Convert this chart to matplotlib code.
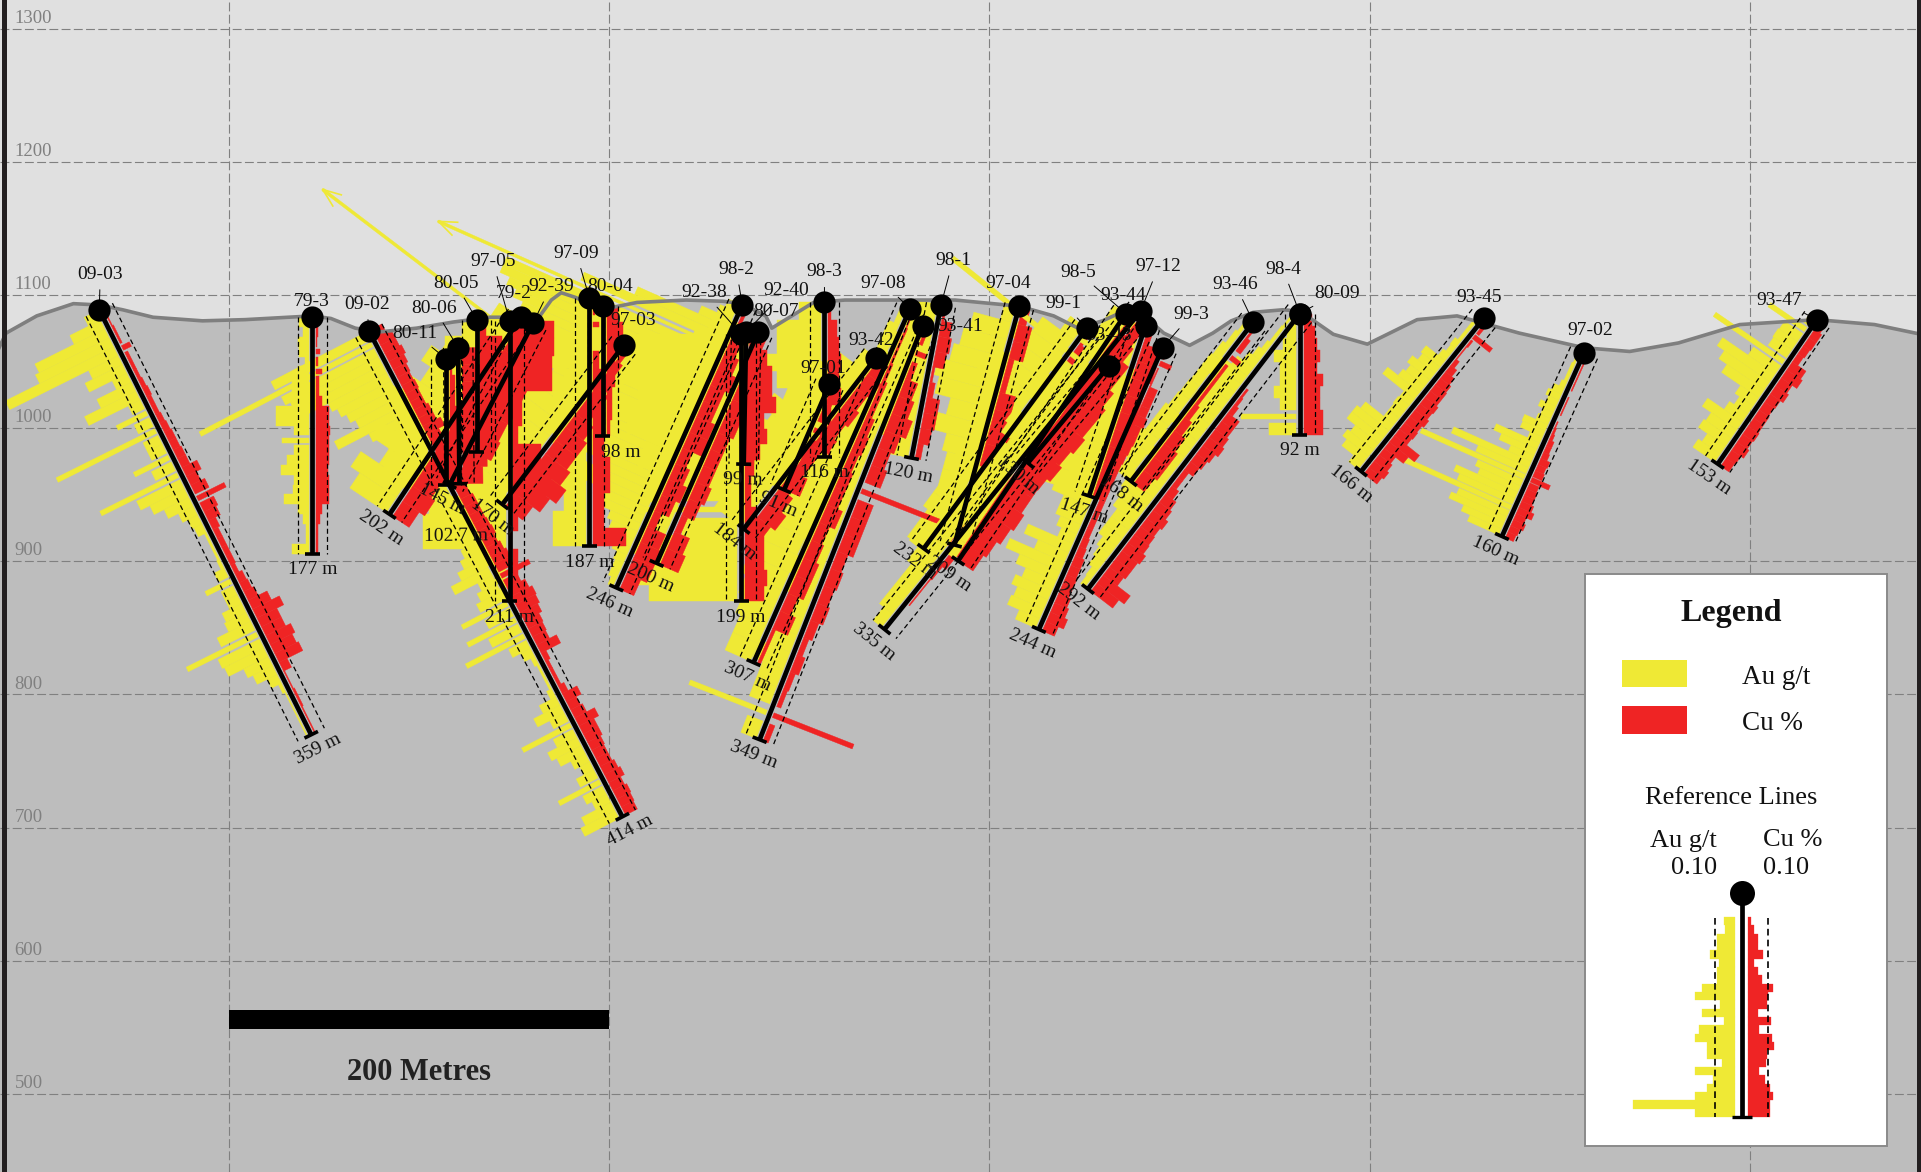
import math

import matplotlib
matplotlib.use("Agg")
from matplotlib import pyplot as plt
from matplotlib.collections import PolyCollection
from matplotlib.patches import Rectangle

# drill holes, section metres / elevation
hole_names = ["09-03", "79-3", "09-02", "80-11", "80-06", "80-05", "97-05", "79-2", "92-39", "97-09", "80-04", "97-03",
              "98-2", "92-38", "92-40", "80-07", "98-3", "97-01", "93-42", "97-08", "93-41", "98-1", "97-04", "99-1",
              "98-5", "93-43", "97-12", "93-44", "99-3", "93-46", "98-4", "80-09", "93-45", "97-02", "93-47"]
collar_x = [131.7, 243.8, 273.5, 314.1, 320.5, 330.2, 347.6, 353.4, 359.8, 389.5, 396.6, 407.5,
            470.0, 469.4, 472.0, 478.4, 513.2, 515.8, 540.3, 558.3, 564.8, 574.5, 615.7, 651.2,
            671.8, 662.8, 679.5, 682.1, 691.1, 738.8, 763.3, 763.3, 860.0, 912.8, 1035.3]
collar_y = [1088.8, 1083.2, 1073.1, 1052.0, 1060.3, 1081.4, 1080.5, 1083.2, 1078.6, 1097.9, 1091.5, 1062.1,
            1092.4, 1070.4, 1072.2, 1072.2, 1094.3, 1032.7, 1052.9, 1089.7, 1076.8, 1092.4, 1091.5, 1075.0,
            1086.0, 1046.5, 1087.8, 1076.8, 1060.3, 1079.6, 1086.0, 1086.0, 1082.3, 1056.6, 1081.4]
end_x = [243.2, 243.8, 406.9, 314.1, 321.2, 330.2, 347.6, 284.4, 316.0, 389.5, 396.6, 343.7,
         403.7, 469.4, 470.7, 424.9, 513.2, 492.0, 470.7, 475.9, 479.1, 559.0, 581.6, 565.4,
         583.5, 620.2, 544.8, 652.4, 626.0, 674.4, 651.8, 763.3, 795.5, 869.6, 983.1]
end_y = [769.7, 905.8, 708.1, 957.3, 958.2, 982.1, 869.9, 935.2, 957.3, 911.3, 994.0, 942.6,
         880.0, 869.9, 972.9, 898.4, 978.4, 953.6, 924.2, 823.9, 766.0, 977.5, 912.2, 909.5,
         900.3, 973.8, 848.8, 949.0, 848.8, 960.0, 879.1, 995.0, 967.4, 918.6, 972.9]
depth_labels = ["359 m", "177 m", "414 m", "", "102.7 m", "", "211 m", "202 m", "145 m", "187 m", "98 m", "170 m",
                "246 m", "199 m", "99 m", "200 m", "116 m", "91 m", "184 m", "307 m", "349 m", "120 m", "", "232 m",
                "209 m", "130 m", "335 m", "147 m", "244 m", "168 m", "292 m", "92 m", "166 m", "160 m", "153 m"]

# assay profiles collar -> end
au_values = {
    "09-03": [.12, .31, .71, .75, 1.1, .3, .38, .15, .35, .52, .12, .3, .15, 1.0, .15, .15, .35, .2, .78, .44, .35, .25, .15, .1,
              .08, .02, .02, .02, .03, .1, .25, .12, .12, .2, .22, .34, .71, .42, .4, .25, .2, .1, .03, .01, .01, .01, .01, .01],
    "79-3": [.09, .05, .1, .09, .03, .1, .15, .15, .15, .3, .3, .13, .24, .13, .2, .25, .13, .14, .22, .1, .05, .02, .02, .15],
    "09-02": [.97, 1.76, .95, .9, .85, .6, .55, .5, .45, .71, .4, .3, .3, .3, .53, .4, .62, .3, .2, .2, .18, .15, .15, .21, .15,
              .12, .15, .2, .27, .38, .15, .2, .25, .46, .25, .49, .3, .59, .18, .1, .04, .02, .02, .02, .05, .17, .27, .15, .49,
              .2, .3, .25, .15, .1, .18, .42, .2, .15, .3, .35],
    "80-11": [.05, .1, .1, .05, .1, .05, .1, .05],
    "80-06": [.1, .2, .15, .1, .2, .1, .15, .1],
    "80-05": [.1, .25, .3, .2, .2, .1, .1, .2],
    "97-05": [.1, .1, .1, .2, .2, .15, .1, .1, .1, .35, .7, .75, .75, .3, .1, .05],
    "79-2": [.2, .3, .3, .4, .5, .4, .5, .6, .4, .5, .3, .5, .4],
    "92-39": [.1, .2, .3, .2, .3, .2, .3, .2, .2],
    "97-09": [.1, .05, .1, .1, .2, .3, .3, .3, .3, .2, .3, .2, .3, .3],
    "80-04": [.05, .1, .1, .1, .1, .1, .1, .1],
    "97-03": [.1, .3, .8, 3.0, 1.0, .9, .8, .7, .7, .6, .5, .4],
    "98-2": [.1, .15, .3, .9, 1.4, 2.8, 2.1, 2.1, 2.0, 1.9, 1.8, 1.8, 1.7, 1.5, 1.5, 1.3, 1.3, 1.3, 1.2, 1.2, 1.0, .9, .8, .6,
             .8, .9, .5, .4, .3, .25, .2, .15, .1, .08, .08, .05],
    "92-38": [1.7, 1.8, 1.2, .9, 1.5, 1.0, .6, .9, .8, .5, .9, .5, .8, .9, .9, .8],
    "92-40": [.3, .3, .4, .3, .3, .3, .3, .3],
    "80-07": [.4, .5, .6, .7, .6, .5, .4, .5, .5, .3, .3, .2, .2, .2],
    "98-3": [.2, .4, .4, .5, .4, .3, .3, .2, .2],
    "97-01": [.3, .3, .3, .4, .3, .3],
    "93-42": [.1, .3, .5, .4, .35, .5, .4, .4, .4, .5, .35, .3],
    "97-08": [.05, .1, .1, .2, .3, .35, .3, .35, .4, .45, .4, .4, .35, .4, .35, .4, .35, .3, .25, .25],
    "93-41": [.1, .15, .2, .3, .3, .25, .3, .35, .3, .3, .3, .25, .3, .25, .3, .25, .2, .2, .2, .3, .2, .2, .75, .15],
    "98-1": [.2, .25, .35, .3, .35, .3, .3, .3, .2],
    "97-04": [.1, .35, .4, .45, .55, .5, .35, .5, .3, .25, .25, .2, .2, .15],
    "99-1": [.15, .35, .5, .4, .5, .55, .4, .35, .25, .25, .25, .2, .2, .2, .15, .15],
    "98-5": [.1, .1, .2, .1, .2, .3, .2, .2, .3, .2, .2, .2, .15, .1, .1, .1],
    "93-43": [.1, .2, .2, .2, .2, .2, .2],
    "97-12": [.05, .1, .1, .15, 1.6, .3, .2, .3, .2, .3, .15, .2, .2, .3, .2, .2, .2, .2, .3, .2, .15, .15, .15, .1],
    "93-44": [.1, .3, .3, .4, .5, .5, .5, .6, .6, .5],
    "99-3": [.03, .05, .1, .15, .2, .25, .25, .2, .2, .25, .2, .2, .25, .43, .3, .25, .37, .25, .25, .2, .15, .44, .3, .54, .4, .3, .36, .3, .32, .2],
    "93-46": [.03, .05, .08, .1, .1, .11, .12, .15, .15, .2, .2, .12],
    "98-4": [.02, .02, .03, .03, .05, .08, .12, .18, .3, .3, .25, .25, .28, .25, .25, .3, .25, .3, .25, .3, .25, .25, .3, .3, .28, .25,
             .2, .2, .2, .15, .12, .1, .06, .05],
    "80-09": [.05, .08, .12, .2, .15, .15, .2, .15, .5, .25],
    "93-45": [.02, .03, .03, .03, .06, .05, .08, .22, .2, .26, .22, .25, .37, .12, .13, .12, .12, .33, .37, .37, .27, .3, .25, .11],
    "97-02": [.02, .02, .03, .03, .03, .05, .1, .13, .1, .15, .1, .12, .23, .22, .12, .43, .35, .23, .77, .5, 1.03, .45, .4, .61, .55,
              1.12, .5, .55, .4, .31],
    "93-47": [.05, .4, .2, .21, .2, .76, .3, .58, .5, .41, .2, .15, .2, .38, .28, .3, .2, .24],
}
cu_values = {
    "09-03": [.01, .01, .02, .02, .08, .03, .03, .03, .04, .05, .04, .04, .05, .06, .07, .07, .08, .08, .15, .1, .14, .28, .14, .12,
              .07, .05, .05, .05, .05, .04, .07, .08, .1, .19, .27, .2, .2, .25, .22, .24, .08, .01, .01, .02, .02, .01, .01, .01],
    "79-3": [.02, .02, .01, .04, .02, .05, .03, .03, .05, .12, .12, .13, .12, .12, .12, .11, .12, .12, .12, .05, .04, .02, .02, .02],
    "09-02": [.1, .15, .15, .17, .15, .13, .12, .13, .12, .12, .14, .14, .18, .12, .1, .12, .1, .08, .08, .1, .1, .12, .12, .12, .13,
              .14, .12, .14, .16, .15, .29, .14, .18, .21, .2, .18, .15, .14, .13, .2, .05, .03, .03, .03, .06, .15, .1, .12, .2,
              .15, .15, .13, .12, .12, .14, .16, .12, .14, .13, .12],
    "80-11": [.02, .05, .05, .1, .12, .05, .08, .05],
    "80-06": [.15, .18, .12, .12, .22, .25, .22, .18],
    "80-05": [.05, .2, .3, .3, .25, .25, .15, .08],
    "97-05": [.37, .37, .35, .35, .08, .08, .04, .25, .37, .33, .04, .04, 0, .04, .04, 0],
    "79-2": [.07, .1, .14, .14, .2, .2, .18, .2, .2, .24, .2, .24, .18],
    "92-39": [.14, .2, .2, .2, .2, .18, .2, .14, .1],
    "97-09": [.02, .05, 0, .05, .08, .05, .1, .1, .1, .15, .15, .1, .1, .3],
    "80-04": [.1, .15, .12, .08, .08, .05, .05, .03],
    "97-03": [.04, .07, .1, .14, .14, .2, .24, .24, .28, .35, .28, .2],
    "98-2": [.03, .07, .1, .14, .18, .14, .14, .18, .2, .1, .14, .18, .14, .07, .18, .2, .2, .14],
    "92-38": [.03, .2, .25, .25, .28, .17, .2, .14, .08, .06, .06, .11, .17, .17, .17, .2, .17],
    "92-40": [.06, .11, .11, .11, .11, .08, .06, .06],
    "80-07": [.06, .12, .15, .18, .18, .15, .12, .12, .12, .15, .12, .06, .15, .18],
    "98-3": [.03, .08, .1, .12, .1, .12, .03, .02, .02],
    "97-01": [.06, .06, .1, .06, .06, .12],
    "93-42": [.1, .15, .12, .15, .12, .15, .1, .1, .1, .15, .2, .15],
    "97-08": [.01, .02, .02, .03, .05, .05, .08, .1, .08, .1, .1, .15, .1, .12, .15, .15, .1, .15, .03, .03],
    "93-41": [.03, .1, .05, .12, .15, .2, .15, .12, .15, .78, .15, .15, .15, .1, .12, .1, .12, .08, .05, .08, .05, .04, .78, .05],
    "98-1": [.02, .1, .12, .1, .02, .05, .12, .12, .1, .05],
    "97-04": [.07, .13, .13, .05, .05, .15, .2, .22, .2, .22, .25, .25, .2, .15],
    "99-1": [.03, .06, .06, .12, .06, .1, .12, .2, .16, .2, .2, .2, .2, .16, .13, .06],
    "98-5": [.06, .1, .13, .13, .2, .2, .2, .23, .2, .2, .2, .2, .23, .2, .16, .13],
    "93-43": [.1, .16, .2, .2, .23, .2, .23],
    "97-12": [.06, .1, .13, .2, .2, .2, .23, .2, .2, .2, .23, .26, .2, .2, .2, .16, .2, .13, .06, .02, .01, .01, 0, 0],
    "93-44": [.05, .15, .18, .15, .15, .15, .18, .15, .1, .1],
    "99-3": [.02, .11, .01, .01, .08, .08, .08, .1, .08, .08, .07, .06, .05, .05, .05, .05, .05, .05, .05, .05, .06, .07, .09, .09, .1, .1, .12, .14, .17, .12],
    "93-46": [.02, .05, .1, .03, .03, .03, .05, .08, .12, .15, .15, .12],
    "98-4": [0, 0, 0, 0, 0, 0, 0, 0, 0, .02, .03, .05, .13, .13, .15, .17, .14, .12, .1, .05, .05, .08, .12, .14, .17, .15, .16, .17, .2, .18,
             .18, .16, .31, .25],
    "80-09": [.08, .1, .12, .15, .12, .18, .15, .15, .18, .18],
    "93-45": [.03, .03, .2, .02, .01, .01, .04, .07, .1, .12, .13, .13, .15, .14, .16, .14, .15, .14, .29, .22, .13, .15, .17, .15],
    "97-02": [.01, .01, .01, .01, .01, .01, 0, .01, .01, .01, 0, .01, .02, .03, .05, .05, .06, .09, .08, .09, .18, .09, .1, .1, .12, .15,
              .1, .12, .09, .08],
    "93-47": [.06, .08, .08, .07, .06, .15, .17, .12, .14, .11, .1, .11, .11, .12, .11, .13, .1, .09],
}

# ground surface
surface_x = [79, 82.7, 98.8, 118.1, 131.7, 144, 160, 186, 208.4, 243.8, 253.5, 266.4, 279.3, 298.6, 317.9, 337.3,
             363, 369.5, 374.7, 382.4, 395.3, 414.6, 440.4, 459.7, 470, 482.3, 485.5, 507.5, 524, 582, 615.7, 633.8,
             646.6, 659.5, 672.4, 682.1, 691.7, 705.3, 717.5, 727.2, 738.8, 754.3, 763.3, 780.9, 798.8, 825, 846,
             878.7, 912.8, 936.8, 962.5, 994.8, 1035.3, 1065.6, 1090.1]
surface_y = [1060.3, 1071.3, 1084.2, 1093.4, 1092.4, 1088.8, 1083.2, 1080.5, 1081.4, 1084.2, 1082.3, 1075, 1072.2,
             1075, 1079.6, 1083.2, 1083.2, 1096.1, 1101.6, 1098, 1088.8, 1094.3, 1096.1, 1095.2, 1093.4, 1084.2,
             1075, 1094.3, 1096.1, 1096.1, 1091.5, 1084.2, 1075, 1080.5, 1088.8, 1083.2, 1071.3, 1062.1, 1071.3,
             1080.5, 1086.9, 1088.8, 1087.8, 1070.4, 1063, 1081.4, 1084.2, 1071.3, 1060.3, 1057.5, 1063.9, 1077.7,
             1081.4, 1077.7, 1070.4]

elevations = [1300, 1200, 1100, 1000, 900, 800, 700, 600, 500]
grid_x = [200, 400, 600, 800, 1000]

# legend sample hole
sample_au = [.055, .05, .09, .09, .125, .08, .09, .09, .165, .2, .075, .165, .055, .18, .2, .14, .14, .065, .2, .11, .14, .2, .51, .2]
sample_cu = [.015, .03, .05, .05, .075, .03, .05, .07, .125, .1, .095, .05, .115, .055, .12, .13, .095, .09, .055, .085, .11, .125, .11, .11]

# name label offsets from the collar, px
name_offset = {
    "09-03": (1, -38), "79-3": (-1, -18), "09-02": (-2, -29), "80-11": (-31, -28), "80-06": (-24, -42), "80-05": (-21, -39),
    "97-05": (-17, -62), "79-2": (-7, -26), "92-39": (18, -39), "97-09": (-13, -47), "80-04": (7, -22), "97-03": (10, -27),
    "98-2": (-6, -38), "92-38": (-37, -44), "92-40": (40, -44), "80-07": (18, -23), "98-3": (0, -33), "97-01": (-6, -18),
    "93-42": (-5, -20), "97-08": (-27, -28), "93-41": (38, -2), "98-1": (12, -47), "97-04": (-11, -25), "99-1": (-23, -27),
    "98-5": (-48, -44), "93-43": (0, -33), "97-12": (18, -47), "93-44": (-22, -33), "99-3": (29, -36), "93-46": (-18, -40),
    "98-4": (-17, -47), "80-09": (37, -23), "93-45": (-5, -23), "97-02": (6, -25), "93-47": (-38, -22),
}
depth_nudge = {"98 m": (18, 0), "102.7 m": (-4, 36)}
# gold of these holes sits over the copper of their neighbours
au_on_top = ["98-5", "97-12"]

YELLOW = "#EFE935"
RED = "#EF2424"
GRID = "#808080"
SERIF = "Liberation Serif"

W, H = 1921, 1172
X0, X1 = 79.48, 1090.06
Y0, Y1 = 441.4, 1321.4
SX = W / (X1 - X0)
SY = H / (Y1 - Y0)
GAP = 3.7       # px between hole and bars
K = 110         # px per unit of grade


def to_data(px, py):
    return px / SX, -py / SY


def bars(values, side, color, x0, y0, x1, y1, polys, colors):
    # bars stand square to the hole on screen, so work in pixels
    ax0, ay0 = x0 * SX, -y0 * SY
    ax1, ay1 = x1 * SX, -y1 * SY
    length = math.hypot(ax1 - ax0, ay1 - ay0)
    dx, dy = (ax1 - ax0) / length, (ay1 - ay0) / length
    nx, ny = -dy * side, dx * side
    step = length / len(values)
    for i, v in enumerate(values):
        if v <= 0:
            continue
        neigh = max(values[max(i - 1, 0)], values[min(i + 1, len(values) - 1)])
        w = step
        if v > 1.6 * neigh:
            w = min(step, 5)
        if v >= 2.5:
            w = 3
        mid = step * (i + 0.5)
        a, b = mid - w / 2, mid + w / 2
        out = GAP + K * v
        pts = [(ax0 + dx * a + nx * GAP, ay0 + dy * a + ny * GAP),
               (ax0 + dx * b + nx * GAP, ay0 + dy * b + ny * GAP),
               (ax0 + dx * b + nx * out, ay0 + dy * b + ny * out),
               (ax0 + dx * a + nx * out, ay0 + dy * a + ny * out)]
        polys.append([to_data(*p) for p in pts])
        colors.append(color)
        if v >= 2.5:
            # bar runs off scale, arrow head on the tip
            tx, ty = ax0 + dx * mid + nx * out, ay0 + dy * mid + ny * out
            for s in (-1, 1):
                hx = tx - nx * 18 + dx * 7 * s
                hy = ty - ny * 18 + dy * 7 * s
                ax.plot([tx / SX, hx / SX], [-ty / SY, -hy / SY], color=color, lw=1.2, zorder=3)


fig = plt.figure(figsize=(W / 100, H / 100), dpi=100)
ax = fig.add_axes([0, 0, 1, 1])
ax.set_xlim(X0, X1)
ax.set_ylim(Y0, Y1)
ax.axis("off")

ax.add_patch(Rectangle((X0, Y0), X1 - X0, Y1 - Y0, fc="#E0E0E0", ec="none", zorder=0))
ax.fill_between(surface_x, Y0, surface_y, color="#BDBDBD", lw=0, zorder=0.5)
ax.plot(surface_x, surface_y, color="#7F7F7F", lw=2.6, zorder=4)

for e in elevations:
    ax.plot([X0, X1], [e, e], color=GRID, lw=0.8, ls=(0, (8, 3)), zorder=1)
    ax.text(X0 + 7.7, e + 7.7, str(e), color="#808080", fontsize=13.5, family=SERIF, ha="left", va="center", zorder=1)
for g in grid_x:
    ax.plot([g, g], [Y0, Y1], color=GRID, lw=0.8, ls=(0, (8, 3)), zorder=1)

polys = []
colors = []
for i, name in enumerate(hole_names):
    if name not in au_on_top:
        bars(au_values[name], 1, YELLOW, collar_x[i], collar_y[i], end_x[i], end_y[i], polys, colors)
for i, name in enumerate(hole_names):
    bars(cu_values[name], -1, RED, collar_x[i], collar_y[i], end_x[i], end_y[i], polys, colors)
for i, name in enumerate(hole_names):
    if name in au_on_top:
        bars(au_values[name], 1, YELLOW, collar_x[i], collar_y[i], end_x[i], end_y[i], polys, colors)
ax.add_collection(PolyCollection(polys, facecolors=colors, edgecolors=colors, linewidths=0.3, zorder=2))

for i, name in enumerate(hole_names):
    x0, y0, x1, y1 = collar_x[i], collar_y[i], end_x[i], end_y[i]
    ax0, ay0, ax1, ay1 = x0 * SX, -y0 * SY, x1 * SX, -y1 * SY
    length = math.hypot(ax1 - ax0, ay1 - ay0)
    dx, dy = (ax1 - ax0) / length, (ay1 - ay0) / length
    off = GAP + K * 0.1

    # reference lines at 0.10
    for s in (-1, 1):
        ox, oy = -dy * off * s, dx * off * s
        ax.plot([(ax0 + ox) / SX, (ax1 + ox) / SX], [-(ay0 + oy) / SY, -(ay1 + oy) / SY],
                color="black", lw=0.9, ls=(0, (4, 2.5)), zorder=4.5)

    ax.plot([x0, x1], [y0, y1], color="black", lw=3.4, solid_capstyle="butt", zorder=5)
    # end tick
    tx, ty = -dy * 7.5, dx * 7.5
    ax.plot([(ax1 - tx) / SX, (ax1 + tx) / SX], [-(ay1 - ty) / SY, -(ay1 + ty) / SY],
            color="black", lw=2.6, solid_capstyle="butt", zorder=5)
    ax.plot([x0], [y0], "o", color="black", ms=16, mew=0, zorder=7)

    ox, oy = name_offset[name]
    ax.annotate(name, xy=(x0, y0), xytext=(ox, -oy - 2.5), textcoords="offset pixels", ha="center", va="center",
                fontsize=14, family=SERIF, color="#111111", zorder=6,
                arrowprops=dict(arrowstyle="-", lw=0.7, color="black", shrinkA=3, shrinkB=0))

    label = depth_labels[i]
    if label:
        nx, ny = depth_nudge.get(label, (0, 0))
        rot = math.degrees(math.atan2(dx, dy))
        lx, ly = ax1 + dx * 16 + nx, ay1 + dy * 16 + ny
        ax.text(lx / SX, -ly / SY, label, rotation=rot, rotation_mode="anchor", ha="center", va="center",
                fontsize=14, family=SERIF, color="#111111", zorder=8)

# scale bar
ax.add_patch(Rectangle((200, 548.8), 200, 14.5, fc="black", ec="none", zorder=6))
ax.text(300, 515.9, "200 Metres", fontsize=22, fontweight="bold", family=SERIF, color="#222222",
        ha="center", va="center", zorder=6)

# frame edges
ax.add_patch(Rectangle((X0 + 1.0, Y0), 2.7, Y1 - Y0, fc="#231F20", ec="none", zorder=9))
ax.add_patch(Rectangle((X1 - 2.1, Y0), 2.1, Y1 - Y0, fc="#231F20", ec="none", zorder=9))

# legend, in pixels
leg = fig.add_axes([0, 0, 1, 1], facecolor="none")
leg.set_xlim(0, W)
leg.set_ylim(H, 0)
leg.axis("off")
leg.add_patch(Rectangle((1585, 574), 302, 572, fc="white", ec="#8A8A8A", lw=1.4))
leg.text(1731, 613.5, "Legend", fontsize=23, fontweight="bold", family=SERIF, color="#111111", ha="center", va="center")
leg.add_patch(Rectangle((1622, 660), 65, 27, fc=YELLOW, ec="none"))
leg.add_patch(Rectangle((1622, 706), 65, 28, fc=RED, ec="none"))
leg.text(1742, 677.5, "Au g/t", fontsize=19.5, family=SERIF, color="#111111", ha="left", va="center")
leg.text(1742, 723, "Cu %", fontsize=19.5, family=SERIF, color="#111111", ha="left", va="center")
leg.text(1731, 798.5, "Reference Lines", fontsize=19, family=SERIF, color="#111111", ha="center", va="center")
leg.text(1717, 840.5, "Au g/t", fontsize=19, family=SERIF, color="#111111", ha="right", va="center")
leg.text(1717, 868.5, "0.10", fontsize=19, family=SERIF, color="#111111", ha="right", va="center")
leg.text(1763, 840.5, "Cu %", fontsize=19, family=SERIF, color="#111111", ha="left", va="center")
leg.text(1763, 868.5, "0.10", fontsize=19, family=SERIF, color="#111111", ha="left", va="center")

cx = 1741.7
top, bottom = 917, 1117
row = (bottom - top) / len(sample_au)
for i in range(len(sample_au)):
    yy = top + row * i
    leg.add_patch(Rectangle((cx - 6.7 - 200 * sample_au[i], yy), 200 * sample_au[i], row, fc=YELLOW, ec=YELLOW, lw=0.2))
    leg.add_patch(Rectangle((cx + 6.7, yy), 200 * sample_cu[i], row, fc=RED, ec=RED, lw=0.2))
for s in (-1, 1):
    leg.plot([cx + 26.7 * s] * 2, [918, 1117], color="black", lw=1.2, ls=(0, (4, 2.5)))
leg.plot([cx, cx], [893, 1117], color="black", lw=3.4, solid_capstyle="butt")
leg.plot([cx - 10, cx + 10], [1117, 1117], color="black", lw=2.4, solid_capstyle="butt")
leg.plot([cx], [893], "o", color="black", ms=18, mew=0)

fig.savefig("out.png", dpi=100)
